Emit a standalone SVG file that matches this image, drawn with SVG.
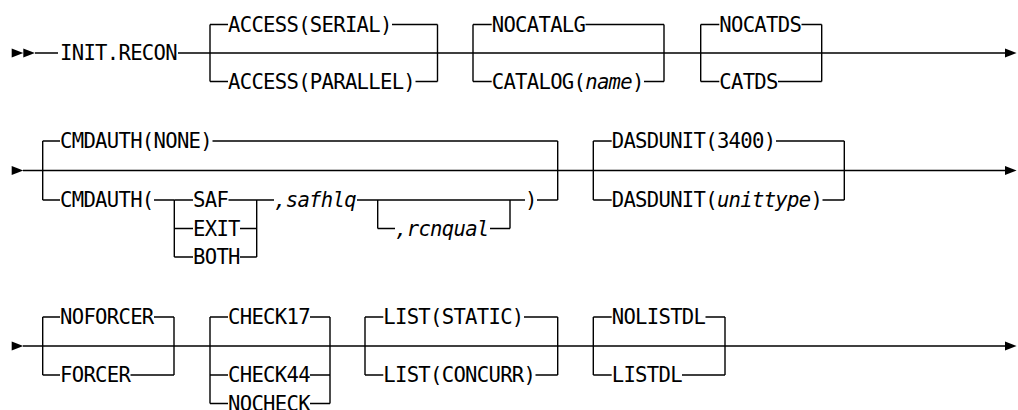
<svg xmlns="http://www.w3.org/2000/svg" xmlns:xlink="http://www.w3.org/1999/xlink" width="1018" height="410" viewBox="0 0 1018 410">
<style>
.ln{fill:none;stroke:#000;stroke-width:1.4}
.ah{fill:#000;stroke:none}
.t{font-family:"DejaVu Sans Mono","Liberation Mono",monospace;font-size:20.6px;letter-spacing:-0.71px;fill:#000}
.i{font-style:italic}
</style>
<defs>
<path id="tri" class="ah" d="M0 -4.5 L11.6 0 L0 4.5 Z"/>
</defs>
<rect width="1018" height="410" fill="#fff"/>
<g id="connectors">
<!-- row 1 -->
<use xlink:href="#tri" x="11.7" y="53"/>
<use xlink:href="#tri" x="23.3" y="53"/>
<path class="ln" d="M35 53 H58 M178 53 H1005"/>
<use xlink:href="#tri" x="1005" y="53"/>
<path class="ln" d="M210 24.5 V81.5 M210 24.5 H228 M392 24.5 H437.5 M210 81.5 H228 M415.5 81.5 H437.5 M437.5 24.5 V81.5"/>
<path class="ln" d="M473 24.5 V81.5 M473 24.5 H491.7 M585.5 24.5 H664 M473 81.5 H491.7 M644 81.5 H664 M664 24.5 V81.5"/>
<path class="ln" d="M700.7 24.5 V81.5 M700.7 24.5 H719.3 M801.5 24.5 H821.7 M700.7 81.5 H719.3 M778 81.5 H821.7 M821.7 24.5 V81.5"/>
<!-- row 2 -->
<use xlink:href="#tri" x="11.7" y="170.5"/>
<path class="ln" d="M23 170.5 H1005"/>
<use xlink:href="#tri" x="1005" y="170.5"/>
<path class="ln" d="M42.7 141 V200 M42.7 141 H60 M212.5 141 H557.7 M42.7 200 H60 M154 200 H174.3 M557.7 141 V200"/>
<path class="ln" d="M174.3 200 V257 M174.3 200 H193 M228.5 200 H256.7 M174.3 228.5 H193 M240 228.5 H256.7 M174.3 257 H193 M240 257 H256.7 M256.7 200 V257 M256.7 200 H274"/>
<path class="ln" d="M357 200 H525 M377.7 200 V228.5 M377.7 228.5 H395 M490 228.5 H510 M510 200 V228.5 M537 200 H557.7"/>
<path class="ln" d="M593.3 141 V200 M593.3 141 H611.7 M776 141 H844.3 M593.3 200 H611.7 M822.5 200 H844.3 M844.3 141 V200"/>
<!-- row 3 -->
<use xlink:href="#tri" x="11.7" y="346"/>
<path class="ln" d="M23 346 H1005"/>
<use xlink:href="#tri" x="1005" y="346"/>
<path class="ln" d="M42.7 317 V375 M42.7 317 H60 M154 317 H174 M42.7 375 H60 M130.5 375 H174 M174 317 V375"/>
<path class="ln" d="M210 317 V403.5 M210 317 H228 M310 317 H330 M210 375 H228 M310 375 H330 M210 403.5 H228 M310 403.5 H330 M330 317 V403.5"/>
<path class="ln" d="M365 317 V375 M365 317 H383.3 M524 317 H557.7 M365 375 H383.3 M535.5 375 H557.7 M557.7 317 V375"/>
<path class="ln" d="M593.3 317 V375 M593.3 317 H611.7 M705.5 317 H725 M593.3 375 H611.7 M682 375 H725 M725 317 V375"/>
</g>
<g id="n-init-recon"><text class="t" x="60" y="60.3">INIT.RECON</text></g>
<g id="n-access">
<text class="t" x="228" y="31.8">ACCESS(SERIAL)</text>
<text class="t" x="228" y="88.8">ACCESS(PARALLEL)</text>
</g>
<g id="n-catalog">
<text class="t" x="491.7" y="31.8">NOCATALG</text>
<text class="t" x="491.7" y="88.8">CATALOG(<tspan class="i">name</tspan>)</text>
</g>
<g id="n-catds">
<text class="t" x="719.3" y="31.8">NOCATDS</text>
<text class="t" x="719.3" y="88.8">CATDS</text>
</g>
<g id="n-cmdauth">
<text class="t" x="60" y="148.3">CMDAUTH(NONE)</text>
<text class="t" x="60" y="207.3">CMDAUTH(</text>
</g>
<g id="n-cmdauth-type">
<text class="t" x="193" y="207.3">SAF</text>
<text class="t" x="193" y="235.8">EXIT</text>
<text class="t" x="193" y="264.3">BOTH</text>
</g>
<g id="n-safhlq"><text class="t i" x="274" y="207.3">,safhlq</text></g>
<g id="n-rcnqual"><text class="t i" x="395" y="235.8">,rcnqual</text></g>
<g id="n-close"><text class="t" x="525" y="207.3">)</text></g>
<g id="n-dasdunit">
<text class="t" x="611.7" y="148.3">DASDUNIT(3400)</text>
<text class="t" x="611.7" y="207.3">DASDUNIT(<tspan class="i">unittype</tspan>)</text>
</g>
<g id="n-forcer">
<text class="t" x="60" y="324.3">NOFORCER</text>
<text class="t" x="60" y="382.3">FORCER</text>
</g>
<g id="n-check">
<text class="t" x="228" y="324.3">CHECK17</text>
<text class="t" x="228" y="382.3">CHECK44</text>
<text class="t" x="228" y="410.5">NOCHECK</text>
</g>
<g id="n-list">
<text class="t" x="383.3" y="324.3">LIST(STATIC)</text>
<text class="t" x="383.3" y="382.3">LIST(CONCURR)</text>
</g>
<g id="n-listdl">
<text class="t" x="611.7" y="324.3">NOLISTDL</text>
<text class="t" x="611.7" y="382.3">LISTDL</text>
</g>
</svg>
